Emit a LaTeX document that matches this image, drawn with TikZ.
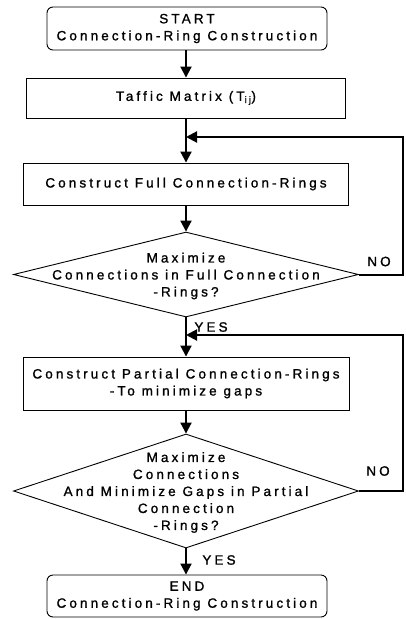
\documentclass[tikz,border=0pt]{standalone}
\usepackage{fontspec}
\setmainfont{Liberation Sans}[LetterSpace=23, FakeBold=1.2]
\usetikzlibrary{shapes.geometric,arrows.meta}
\begin{document}
\begin{tikzpicture}[x=1pt,y=-1pt,
  every node/.style={font=\fontsize{13.5}{17}\selectfont, align=center, inner sep=0pt},
  terminal/.style={draw, line width=0.9pt, rounded corners=6pt, minimum width=280pt, minimum height=43pt},
  process/.style={draw, line width=0.9pt, minimum height=41pt},
  decision/.style={draw, line width=0.9pt, shape=diamond, minimum width=345pt},
  flow/.style={line width=2pt, -{Triangle[length=11pt,width=11pt]}},
  loop/.style={line width=2pt},
  tag/.style={anchor=center}
]
\useasboundingbox (0,0) rectangle (405,619);

% main column
\node[terminal] (start) at (187,28.5) {START\\Connection-Ring Construction};
\node[process, minimum width=319pt, minimum height=40pt] (matrix) at (186,98) {Taffic Matrix (T\textsubscript{ij})};
\node[process, minimum width=325pt, minimum height=42pt] (full) at (186,184) {Construct Full Connection-Rings};
\node[decision, minimum height=85pt] (dfull) at (186,274.5) {};
\node at (186,276) {Maximize\\Connections in Full Connection\\-Rings?};
\node[process, minimum width=326pt, minimum height=53pt] (partial) at (186,383.5) {Construct Partial Connection-Rings\\-To minimize gaps};
\node[decision, minimum height=114pt] (dpart) at (186,491) {};
\node at (186,492.5) {Maximize\\Connections\\And Minimize Gaps in Partial\\Connection\\-Rings?};
\node[terminal, minimum height=42pt] (end) at (187,596) {END\\Connection-Ring Construction};

% loop return points
\coordinate (j1) at (186,137);
\coordinate (j2) at (186,335);
\coordinate (r1) at (403,137);
\coordinate (r2) at (403,335);

% straight-down connectors
\draw[flow] (start.south -| matrix.north) -- (matrix.north);
\draw[loop] (matrix.south) -- (j1);
\draw[flow] (j1) -- (full.north);
\draw[flow] (full.south) -- (dfull.north);
\draw[loop] (dfull.south) -- (j2);
\draw[flow] (j2) -- (partial.north);
\draw[flow] (partial.south) -- (dpart.north);
\draw[flow] (dpart.south) -- (end.north -| dpart.south);

% NO branches
\draw[flow] (dfull.east) -- (dfull.east -| r1) -- (r1) -- (j1);
\draw[flow] (dpart.east) -- (dpart.east -| r2) -- (r2) -- (j2);

% branch labels
\node[tag] (yes1) at (211,327) {YES};
\node[tag] (no1) at (379,261.5) {NO};
\node[tag] (yes2) at (219,560) {YES};
\node[tag] (no2) at (378,471) {NO};
\end{tikzpicture}
\end{document}
